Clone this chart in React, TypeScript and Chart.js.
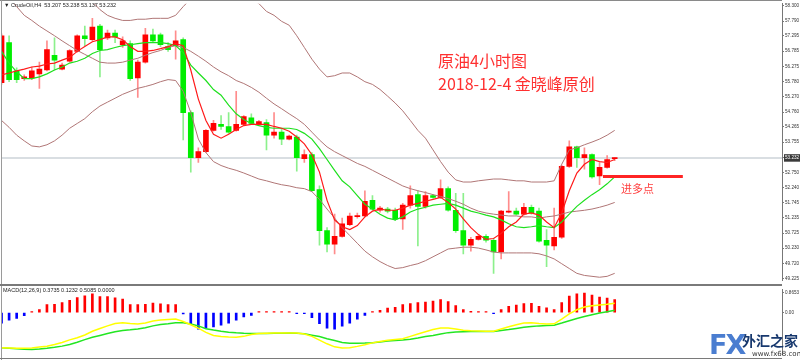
import React, { useEffect, useRef } from "react";
import { Chart, registerables } from "chart.js";
Chart.register(...registerables);

// ---- Candles (CrudeOil H4) ----
const OPEN = [55.74,57.07,56.13,55.87,55.90,56.03,56.16,56.65,56.19,56.45,56.78,57.30,57.17,57.62,57.23,57.39,57.00,57.04,55.90,56.42,57.33,57.33,56.94,56.97,57.17,54.74,53.24,53.44,54.15,54.35,54.28,54.15,54.35,54.57,54.35,54.41,53.99,54.09,53.86,53.93,53.21,53.34,52.18,50.81,50.36,50.62,51.01,51.28,51.30,51.82,51.49,51.53,51.49,51.20,51.66,52.01,51.62,51.98,51.92,52.21,51.49,50.81,50.33,50.52,50.62,50.49,50.10,51.43,51.46,51.36,51.59,51.46,50.49,50.30,50.59,52.95,53.60,53.24,53.34,52.63,52.92,53.207];
const HIGH = [57.36,57.30,56.23,56.00,56.26,56.42,57.13,57.23,56.39,56.84,57.33,57.62,57.88,57.68,57.49,57.49,57.26,57.13,56.49,57.55,57.52,57.39,57.07,57.46,57.23,54.80,53.57,54.18,54.48,54.64,54.74,55.45,54.64,54.70,54.48,54.51,54.74,54.22,53.99,53.99,53.50,53.41,52.30,50.91,51.36,51.23,51.40,51.40,52.14,51.98,51.62,51.59,51.56,51.72,52.30,52.14,52.11,52.01,52.50,52.27,52.05,52.05,50.59,50.68,50.68,50.55,51.49,52.11,51.56,51.72,51.66,51.56,50.85,51.56,52.99,53.80,53.63,53.57,53.37,53.08,53.31,53.238];
const LOW = [55.68,55.77,55.74,55.81,55.84,55.55,56.13,56.16,56.16,56.42,56.75,56.97,57.13,55.93,57.17,57.07,56.91,55.81,55.25,56.39,57.07,56.94,56.78,56.52,53.83,52.76,53.08,53.41,54.12,54.18,54.05,54.12,54.31,54.35,54.31,53.50,53.89,53.67,53.83,52.79,53.08,52.11,50.33,50.10,50.04,50.59,50.98,51.23,51.27,51.49,51.43,51.40,51.14,50.85,51.56,50.30,51.56,51.88,51.88,51.46,50.75,50.04,50.13,50.49,50.43,49.39,49.87,51.40,51.33,51.33,51.36,50.43,49.61,50.17,50.55,52.92,52.92,52.86,52.56,52.34,52.89,53.137];
const CLOSE = [57.30,55.84,55.84,55.93,56.13,56.19,56.84,56.49,56.32,56.81,57.30,57.20,57.59,56.84,57.39,57.26,57.13,55.87,56.42,57.33,57.13,57.00,56.84,57.13,54.74,53.24,53.44,54.15,54.38,54.28,54.09,54.35,54.61,54.38,54.44,53.99,54.09,53.86,53.96,53.24,53.34,52.14,50.81,50.36,50.62,51.04,51.30,51.30,51.79,51.53,51.56,51.46,51.20,51.66,51.98,51.62,51.98,51.92,52.21,51.49,50.81,50.33,50.52,50.62,50.49,50.10,51.46,51.46,51.36,51.59,51.40,50.46,50.33,50.59,52.95,53.60,53.24,53.34,52.60,52.92,53.18,53.232];

// ---- Moving averages ----
const MA_FAST = [56.00,56.06,56.13,56.19,56.26,56.29,56.36,56.39,56.49,56.58,56.78,56.94,57.10,57.17,57.26,57.26,57.17,56.94,56.78,56.78,56.81,56.87,56.94,57.04,56.97,56.16,55.19,54.48,54.02,53.89,54.02,54.18,54.31,54.35,54.35,54.35,54.28,54.22,54.12,53.93,53.70,53.34,52.76,51.82,51.17,50.94,50.85,50.98,51.27,51.46,51.53,51.49,51.49,51.56,51.66,51.72,51.79,51.85,51.92,51.75,51.53,51.20,50.91,50.68,50.52,50.55,50.72,50.94,51.10,51.36,51.40,51.33,51.10,50.91,51.40,52.14,52.73,53.02,53.18,53.11,53.08,53.18];
const MA_SLOW = [56.78,56.39,56.10,55.87,55.87,55.93,56.03,56.16,56.26,56.39,56.45,56.55,56.71,56.81,56.84,56.91,56.97,57.00,57.04,57.07,57.07,57.07,57.04,56.97,56.74,56.32,56.06,55.81,55.51,55.32,54.99,54.70,54.51,54.38,54.31,54.25,54.22,54.22,54.22,54.18,54.05,53.86,53.54,53.18,52.82,52.47,52.27,51.98,51.69,51.53,51.36,51.23,51.17,51.27,51.43,51.53,51.59,51.66,51.69,51.72,51.66,51.56,51.46,51.40,51.33,51.27,51.17,51.04,50.94,50.91,50.94,50.98,50.94,50.91,51.10,51.36,51.62,51.82,52.01,52.17,52.37,52.60];

// ---- Bollinger bands ----
const BB_UPPER = [60.31,60.15,59.99,59.82,59.66,59.50,59.34,59.18,59.01,58.85,58.69,58.53,58.43,58.17,57.98,57.88,57.81,57.81,57.85,57.85,57.88,57.88,57.88,57.98,58.27,58.53,58.75,58.95,59.08,59.18,59.18,59.01,58.85,58.53,58.37,58.11,57.98,57.78,57.65,57.30,56.91,56.52,56.19,55.93,55.97,56.06,56.06,55.93,55.77,55.68,55.51,55.29,55.06,54.80,54.48,54.15,53.89,53.50,53.11,52.76,52.50,52.43,52.43,52.47,52.50,52.53,52.53,52.50,52.47,52.47,52.43,52.43,52.43,52.47,53.02,53.50,53.57,53.67,53.76,53.86,53.99,54.15];
const BB_MID = [58.75,58.56,58.27,57.98,57.81,57.62,57.46,57.30,57.13,56.97,56.81,56.68,56.55,56.42,56.39,56.39,56.42,56.49,56.55,56.65,56.74,56.81,56.91,56.97,56.91,56.78,56.62,56.45,56.26,56.10,55.97,55.81,55.71,55.58,55.42,55.22,55.03,54.87,54.70,54.54,54.35,54.09,53.83,53.60,53.44,53.31,53.18,53.05,52.95,52.82,52.69,52.56,52.43,52.30,52.21,52.14,52.08,52.01,51.95,51.88,51.79,51.69,51.56,51.46,51.40,51.36,51.33,51.30,51.30,51.27,51.27,51.23,51.27,51.30,51.36,51.43,51.46,51.49,51.53,51.59,51.66,51.75];
const BB_LOWER = [54.48,54.25,53.99,53.80,53.63,53.60,53.67,53.80,53.99,54.22,54.38,54.54,54.77,54.96,55.09,55.22,55.35,55.45,55.55,55.61,55.68,55.77,55.84,55.81,55.45,54.74,53.86,53.41,53.11,52.98,52.89,52.82,52.73,52.63,52.53,52.47,52.40,52.34,52.30,52.24,52.21,52.11,51.85,51.53,51.23,50.91,50.65,50.39,50.13,49.94,49.78,49.65,49.55,49.58,49.65,49.71,49.81,49.94,50.07,50.20,50.23,50.26,50.26,50.23,50.17,50.10,50.07,50.07,50.07,50.07,50.07,50.04,49.97,49.87,49.71,49.55,49.39,49.32,49.29,49.26,49.29,49.39];

// ---- MACD(12,26,9) ----
const MACD_HIST = [-0.45,-0.32,-0.25,-0.13,0.02,0.13,0.34,0.36,0.43,0.53,0.65,0.72,0.81,0.69,0.69,0.63,0.58,0.34,0.34,0.36,0.41,0.38,0.34,0.34,-0.06,-0.48,-0.71,-0.67,-0.61,-0.54,-0.45,-0.32,-0.18,-0.12,0.02,0.02,0.02,0.02,0.03,-0.02,-0.04,-0.22,-0.48,-0.67,-0.71,-0.58,-0.45,-0.28,-0.12,0.03,0.10,0.19,0.23,0.34,0.39,0.43,0.45,0.49,0.56,0.47,0.30,0.13,0.05,0.04,0.03,-0.02,0.13,0.27,0.32,0.39,0.40,0.27,0.21,0.13,0.43,0.71,0.81,0.84,0.75,0.67,0.62,0.56];
const MACD_MAIN = [-1.51,-1.52,-1.53,-1.53,-1.52,-1.48,-1.44,-1.37,-1.28,-1.17,-1.08,-0.96,-0.80,-0.68,-0.57,-0.47,-0.44,-0.47,-0.49,-0.45,-0.36,-0.32,-0.30,-0.28,-0.38,-0.52,-0.67,-0.85,-0.98,-1.03,-1.05,-1.06,-1.02,-0.94,-0.90,-0.89,-0.88,-0.88,-0.88,-0.88,-0.92,-1.02,-1.18,-1.34,-1.47,-1.52,-1.51,-1.45,-1.38,-1.30,-1.24,-1.19,-1.15,-1.12,-1.02,-0.92,-0.82,-0.73,-0.66,-0.66,-0.70,-0.76,-0.78,-0.79,-0.80,-0.80,-0.70,-0.61,-0.52,-0.45,-0.44,-0.47,-0.49,-0.48,-0.28,-0.05,0.12,0.24,0.29,0.33,0.36,0.40];
const MACD_SIGNAL = [-1.51,-1.53,-1.55,-1.57,-1.58,-1.56,-1.53,-1.49,-1.44,-1.37,-1.27,-1.16,-1.06,-0.98,-0.90,-0.82,-0.77,-0.74,-0.70,-0.65,-0.57,-0.51,-0.48,-0.44,-0.44,-0.49,-0.57,-0.69,-0.75,-0.80,-0.84,-0.87,-0.89,-0.90,-0.90,-0.90,-0.89,-0.89,-0.88,-0.89,-0.91,-0.97,-1.03,-1.12,-1.20,-1.28,-1.32,-1.32,-1.31,-1.29,-1.26,-1.22,-1.20,-1.18,-1.14,-1.09,-1.03,-0.98,-0.92,-0.86,-0.83,-0.82,-0.81,-0.81,-0.81,-0.81,-0.77,-0.73,-0.68,-0.63,-0.60,-0.57,-0.55,-0.54,-0.45,-0.35,-0.25,-0.17,-0.09,-0.02,0.04,0.10];

// ---- Axis ticks / annotations ----
const PRICE_TICKS = [58.300,57.790,57.295,56.785,56.275,55.780,55.270,54.760,54.265,53.755,52.750,52.240,51.745,51.235,50.725,50.230,49.720,49.225];
const CURRENT_PRICE = 53.232;
const MACD_TICKS = [0.8653, 0];
const ENTRY_FROM = 79.45;
const ENTRY_TO = 90.0;
const ENTRY_PRICE = 52.61;

const X_MIN = -0.07;
const X_MAX = 103.1;
const AXIS_W = 18;
const TICK_FONT = { size: 4.6, family: "'Liberation Sans', Arial, sans-serif" };

export default function App() {
  const mainRef = useRef<HTMLCanvasElement>(null);
  const macdRef = useRef<HTMLCanvasElement>(null);

  useEffect(() => {
    const idx = OPEN.map((_, i) => i);
    const up = (i: number) => CLOSE[i] >= OPEN[i];
    const line = (arr: number[], color: string, width: number, order: number) => ({
      type: "line" as const,
      data: idx.map((i) => ({ x: i, y: arr[i] })),
      borderColor: color,
      borderWidth: width,
      pointRadius: 0,
      tension: 0,
      fill: false,
      order,
    });

    const main = new Chart(mainRef.current!, {
      type: "bar",
      data: {
        datasets: [
          {
            type: "line",
            data: [{ x: ENTRY_FROM, y: ENTRY_PRICE }, { x: ENTRY_TO, y: ENTRY_PRICE }],
            borderColor: "#ff2424",
            borderWidth: 3,
            pointRadius: 0,
            order: 1,
          },
          line(MA_FAST, "#ff1a1a", 1.2, 2),
          line(MA_SLOW, "#1ee01e", 1.2, 3),
          line(BB_UPPER, "#b07676", 1, 4),
          line(BB_MID, "#b07676", 1, 4),
          line(BB_LOWER, "#b07676", 1, 4),
          {
            type: "bar",
            data: idx.map((i) => ({ x: i, y: [OPEN[i], CLOSE[i]] })),
            backgroundColor: idx.map((i) => (up(i) ? "#ff0000" : "#00ee00")),
            barThickness: 5,
            minBarLength: 1,
            grouped: false,
            order: 6,
          } as any,
          {
            type: "bar",
            data: idx.map((i) => ({ x: i, y: [LOW[i], HIGH[i]] })),
            backgroundColor: idx.map((i) => (up(i) ? "#ff8c8c" : "#8cf08c")),
            barThickness: 1,
            grouped: false,
            order: 7,
          } as any,
          {
            type: "line",
            data: [{ x: -1, y: CURRENT_PRICE }, { x: 104, y: CURRENT_PRICE }],
            borderColor: "#cdd3d9",
            borderWidth: 1.5,
            pointRadius: 0,
            order: 9,
          },
        ],
      },
      options: {
        animation: false,
        responsive: false,
        maintainAspectRatio: false,
        layout: { padding: { left: 1, top: 0, right: 0, bottom: 0 } },
        plugins: { legend: { display: false }, tooltip: { enabled: false } },
        events: [],
        scales: {
          x: { type: "linear", min: X_MIN, max: X_MAX, display: false, offset: false },
          y: {
            position: "right",
            min: 49.16,
            max: 58.365,
            afterBuildTicks: (axis: any) => {
              axis.ticks = [...PRICE_TICKS, CURRENT_PRICE].sort((a, b) => b - a).map((v) => ({ value: v }));
            },
            afterFit: (axis: any) => {
              axis.width = AXIS_W;
            },
            ticks: {
              autoSkip: false,
              font: TICK_FONT,
              padding: 1,
              color: (ctx: any) => (ctx.tick && ctx.tick.value === CURRENT_PRICE ? "#ffffff" : "#333333"),
              showLabelBackdrop: (ctx: any) => !!(ctx.tick && ctx.tick.value === CURRENT_PRICE),
              backdropColor: "#3a3a3a",
              backdropPadding: 1,
              callback: (v: any) => Number(v).toFixed(3),
            },
            grid: { drawOnChartArea: false, drawTicks: true, tickLength: 2, color: "#777777" },
            border: { display: true, color: "#777777", width: 1 },
          },
        },
      } as any,
    });

    const macd = new Chart(macdRef.current!, {
      type: "bar",
      data: {
        datasets: [
          line(MACD_MAIN, "#ffff00", 1.5, 1),
          line(MACD_SIGNAL, "#22e622", 1.5, 2),
          {
            type: "bar",
            data: idx.map((i) => ({ x: i, y: MACD_HIST[i] })),
            backgroundColor: idx.map((i) => (MACD_HIST[i] >= 0 ? "#ff0000" : "#0000ff")),
            barThickness: 2,
            minBarLength: 1,
            grouped: false,
            order: 3,
          } as any,
        ],
      },
      options: {
        animation: false,
        responsive: false,
        maintainAspectRatio: false,
        layout: { padding: { left: 1, top: 0, right: 0, bottom: 0 } },
        plugins: { legend: { display: false }, tooltip: { enabled: false } },
        events: [],
        scales: {
          x: { type: "linear", min: X_MIN, max: X_MAX, display: false, offset: false },
          y: {
            position: "right",
            min: -1.788,
            max: 0.981,
            afterBuildTicks: (axis: any) => {
              axis.ticks = MACD_TICKS.map((v) => ({ value: v }));
            },
            afterFit: (axis: any) => {
              axis.width = AXIS_W;
            },
            ticks: {
              autoSkip: false,
              font: TICK_FONT,
              padding: 1,
              color: "#333333",
              callback: (v: any) => (Number(v) === 0 ? "0.00" : Number(v).toFixed(4)),
            },
            grid: { drawOnChartArea: false, drawTicks: true, tickLength: 2, color: "#777777" },
            border: { display: true, color: "#777777", width: 1 },
          },
        },
      } as any,
    });

    return () => {
      main.destroy();
      macd.destroy();
    };
  }, []);

  const tiny: React.CSSProperties = {
    position: "absolute",
    fontFamily: "'Liberation Sans', Arial, sans-serif",
    fontSize: "5.5px",
    lineHeight: "6px",
    color: "#222",
    whiteSpace: "nowrap",
  };
  const note: React.CSSProperties = {
    position: "absolute",
    fontFamily: "'Noto Sans CJK SC', 'Noto Sans', sans-serif",
    color: "#ff3030",
    whiteSpace: "nowrap",
  };

  return (
    <div style={{ position: "absolute", left: 0, top: 0, width: 800, height: 360, background: "#fff", overflow: "hidden" }}>
      <canvas ref={mainRef} width={800} height={284} style={{ position: "absolute", left: 0, top: 0, width: 800, height: 284 }} />
      <canvas ref={macdRef} width={800} height={72} style={{ position: "absolute", left: 0, top: 286, width: 800, height: 72 }} />
      <div style={{ position: "absolute", left: 0, top: 0, width: 782, height: 1, background: "#8a8a8a" }} />
      <div style={{ position: "absolute", left: 1, top: 0, width: 1, height: 360, background: "#9a9a9a" }} />
      <div style={{ position: "absolute", left: 0, top: 284, width: 782, height: 2, background: "#7a7a7a" }} />
      <div style={{ position: "absolute", left: 0, top: 358, width: 782, height: 1, background: "#7a7a7a" }} />
      <div style={{ ...tiny, left: 4, top: 2 }}>▼ CrudeOil,H4&nbsp; 53.207 53.238 53.137 53.232</div>
      <div style={{ ...tiny, left: 3, top: 287 }}>MACD(12,26,9) 0.3735 0.1232 0.5085 0.0000</div>
      <div style={{ ...note, left: 438, top: 52, fontSize: "16px", lineHeight: "16px" }}>原油4小时图</div>
      <div style={{ ...note, left: 438, top: 75, fontSize: "16px", lineHeight: "16px" }}>2018-12-4 金晓峰原创</div>
      <div style={{ ...note, left: 621, top: 182, fontSize: "11px", lineHeight: "12px", color: "#ff4040" }}>进多点</div>
      <div style={{ position: "absolute", left: 709, top: 331, fontFamily: "'DejaVu Sans', sans-serif", fontWeight: 900, fontSize: "27px", lineHeight: "28px", color: "#4a7dd0", letterSpacing: "-2px" }}>FX</div>
      <div style={{ position: "absolute", left: 742, top: 333, fontFamily: "'Noto Sans CJK SC', sans-serif", fontWeight: 700, fontSize: "14px", lineHeight: "15px", color: "#17386e" }}>外汇之家</div>
      <div style={{ position: "absolute", left: 752, top: 350, fontFamily: "'DejaVu Sans', sans-serif", fontSize: "7px", lineHeight: "8px", color: "#333" }}>www.fx68.com</div>
    </div>
  );
}
